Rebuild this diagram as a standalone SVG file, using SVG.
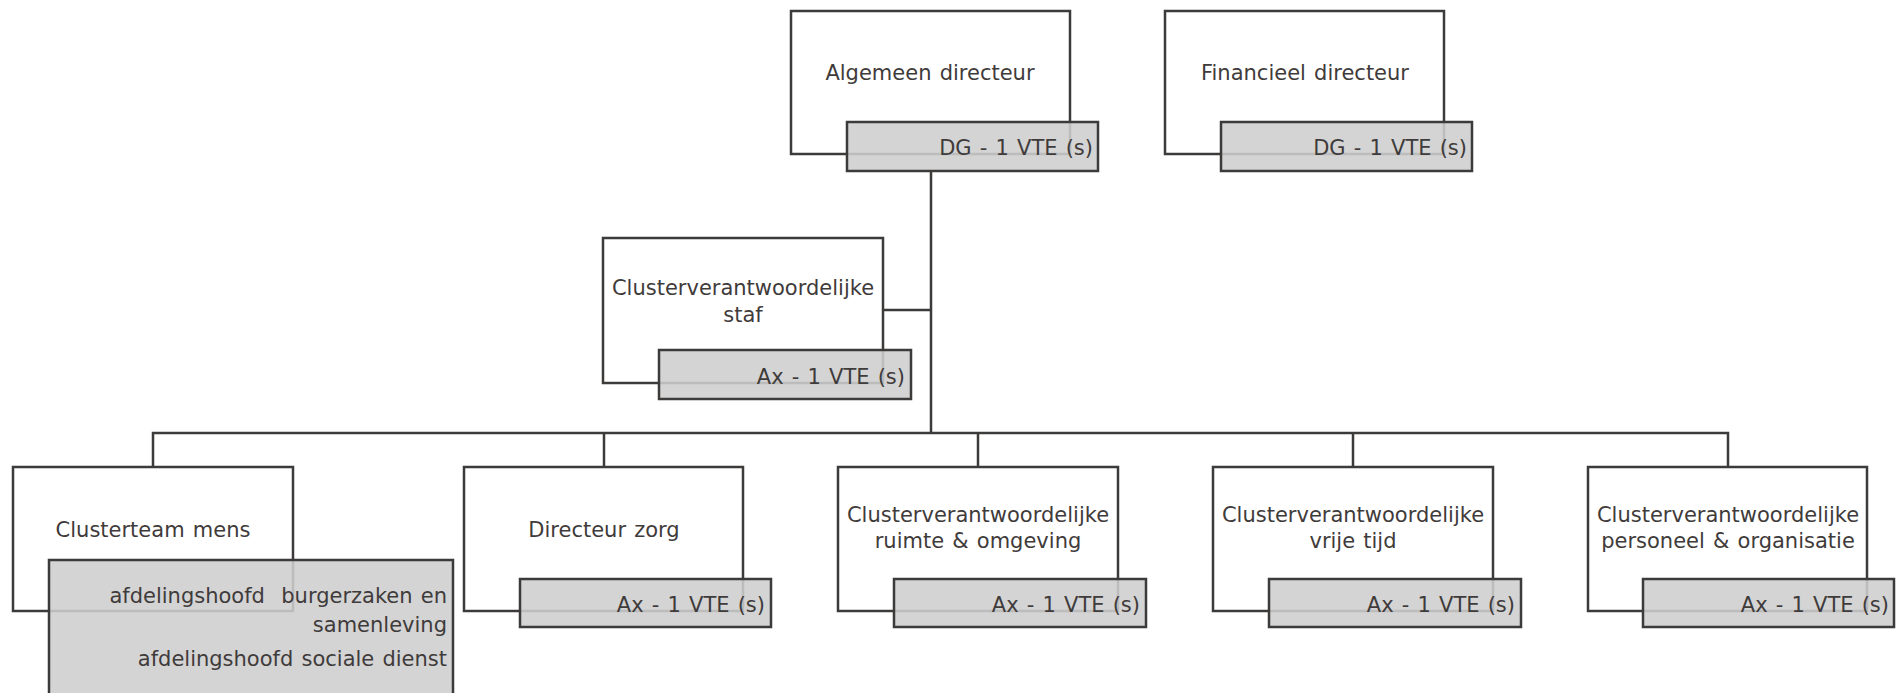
<svg xmlns="http://www.w3.org/2000/svg" width="1899" height="693" viewBox="0 0 1899 693">
  <style>
    .box { fill: #ffffff; stroke: #3d3a3a; stroke-width: 2.5; }
    .tag { fill: #cecece; fill-opacity: 0.88; stroke: #3d3a3a; stroke-width: 2.5; }
    .link { fill: none; stroke: #3d3a3a; stroke-width: 2.5; }
    text { font-family: "DejaVu Sans", "Liberation Sans", sans-serif; font-size: 21px; word-spacing: 1.5px; fill: #3f3b3b; }
    .c { text-anchor: middle; }
    .r { text-anchor: end; }
  </style>
  <rect width="1899" height="693" fill="#ffffff"/>

  <!-- connectors -->
  <g id="connectors">
    <path class="link" d="M931 171 V433"/>
    <path class="link" d="M883 310 H931"/>
    <path class="link" d="M153 467 V433 H1728 V467"/>
    <path class="link" d="M604 433 V467"/>
    <path class="link" d="M978 433 V467"/>
    <path class="link" d="M1353 433 V467"/>
  </g>

  <g id="algemeen-directeur">
    <rect class="box" x="791" y="11" width="279" height="143"/>
    <text class="c" x="930" y="80">Algemeen directeur</text>
    <rect class="tag" x="847" y="122" width="251" height="49"/>
    <text class="r" x="1093" y="155">DG - 1 VTE (s)</text>
  </g>

  <g id="financieel-directeur">
    <rect class="box" x="1165" y="11" width="279" height="143"/>
    <text class="c" x="1305" y="80">Financieel directeur</text>
    <rect class="tag" x="1221" y="122" width="251" height="49"/>
    <text class="r" x="1467" y="155">DG - 1 VTE (s)</text>
  </g>

  <g id="cluster-staf">
    <rect class="box" x="603" y="238" width="280" height="145"/>
    <text class="c" x="743" y="295">Clusterverantwoordelijke</text>
    <text class="c" x="743" y="322">staf</text>
    <rect class="tag" x="659" y="350" width="252" height="49"/>
    <text class="r" x="905" y="384">Ax - 1 VTE (s)</text>
  </g>

  <g id="clusterteam-mens">
    <rect class="box" x="13" y="467" width="280" height="144"/>
    <text class="c" x="153" y="537">Clusterteam mens</text>
    <rect class="tag" x="49" y="560" width="404" height="145"/>
    <text class="r" x="447" y="603" xml:space="preserve">afdelingshoofd  burgerzaken en</text>
    <text class="r" x="447" y="632">samenleving</text>
    <text class="r" x="447" y="666">afdelingshoofd sociale dienst</text>
  </g>

  <g id="directeur-zorg">
    <rect class="box" x="464" y="467" width="279" height="144"/>
    <text class="c" x="604" y="537">Directeur zorg</text>
    <rect class="tag" x="520" y="579" width="251" height="48"/>
    <text class="r" x="765" y="612">Ax - 1 VTE (s)</text>
  </g>

  <g id="cluster-ruimte">
    <rect class="box" x="838" y="467" width="280" height="144"/>
    <text class="c" x="978" y="522">Clusterverantwoordelijke</text>
    <text class="c" x="978" y="548">ruimte &amp; omgeving</text>
    <rect class="tag" x="894" y="579" width="252" height="48"/>
    <text class="r" x="1140" y="612">Ax - 1 VTE (s)</text>
  </g>

  <g id="cluster-vrije-tijd">
    <rect class="box" x="1213" y="467" width="280" height="144"/>
    <text class="c" x="1353" y="522">Clusterverantwoordelijke</text>
    <text class="c" x="1353" y="548">vrije tijd</text>
    <rect class="tag" x="1269" y="579" width="252" height="48"/>
    <text class="r" x="1515" y="612">Ax - 1 VTE (s)</text>
  </g>

  <g id="cluster-personeel">
    <rect class="box" x="1588" y="467" width="279" height="144"/>
    <text class="c" x="1728" y="522">Clusterverantwoordelijke</text>
    <text class="c" x="1728" y="548">personeel &amp; organisatie</text>
    <rect class="tag" x="1643" y="579" width="251" height="48"/>
    <text class="r" x="1889" y="612">Ax - 1 VTE (s)</text>
  </g>
</svg>
